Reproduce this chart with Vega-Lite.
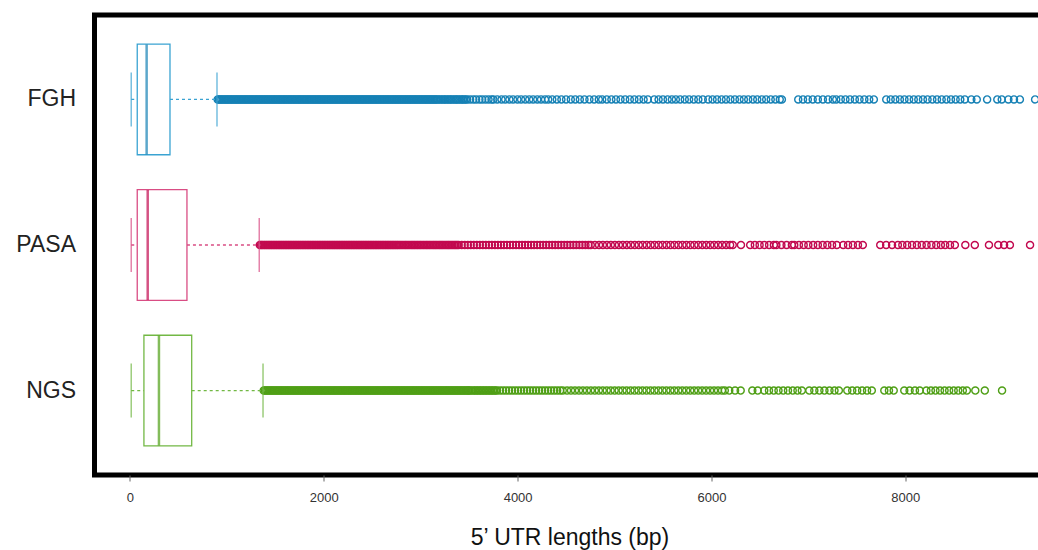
{
  "$schema": "https://vega.github.io/schema/vega-lite/v6.json",
  "autosize": {"type": "none"},
  "padding": {"left": 94.5, "top": 15, "right": 0, "bottom": 75},
  "width": 950,
  "height": 460,
  "background": "white",
  "config": {"view": {"stroke": "black", "strokeWidth": 5}, "font": "Liberation Sans"},
  "datasets": {
    "stats": [
      {"method": "FGH", "lower": 13, "q1": 75, "median": 172, "q3": 413, "upper": 898},
      {"method": "PASA", "lower": 13, "q1": 75, "median": 183, "q3": 588, "upper": 1334},
      {"method": "NGS", "lower": 13, "q1": 144, "median": 299, "q3": 637, "upper": 1373}
    ],
    "outliers": [
      {"method":"FGH","v":905},{"method":"FGH","v":930},{"method":"FGH","v":957},{"method":"FGH","v":983},{"method":"FGH","v":1008},{"method":"FGH","v":1035},{"method":"FGH","v":1060},{"method":"FGH","v":1086},{"method":"FGH","v":1112},{"method":"FGH","v":1138},{"method":"FGH","v":1164},{"method":"FGH","v":1190},{"method":"FGH","v":1216},{"method":"FGH","v":1242},{"method":"FGH","v":1268},{"method":"FGH","v":1294},{"method":"FGH","v":1320},{"method":"FGH","v":1346},{"method":"FGH","v":1372},{"method":"FGH","v":1398},{"method":"FGH","v":1424},{"method":"FGH","v":1450},{"method":"FGH","v":1476},{"method":"FGH","v":1502},{"method":"FGH","v":1528},{"method":"FGH","v":1554},{"method":"FGH","v":1580},{"method":"FGH","v":1606},{"method":"FGH","v":1632},{"method":"FGH","v":1658},{"method":"FGH","v":1684},{"method":"FGH","v":1710},{"method":"FGH","v":1736},{"method":"FGH","v":1762},{"method":"FGH","v":1788},{"method":"FGH","v":1814},{"method":"FGH","v":1840},{"method":"FGH","v":1866},{"method":"FGH","v":1892},{"method":"FGH","v":1918},{"method":"FGH","v":1944},{"method":"FGH","v":1970},{"method":"FGH","v":1996},{"method":"FGH","v":2022},{"method":"FGH","v":2048},{"method":"FGH","v":2074},{"method":"FGH","v":2100},{"method":"FGH","v":2126},{"method":"FGH","v":2152},{"method":"FGH","v":2178},{"method":"FGH","v":2204},{"method":"FGH","v":2230},{"method":"FGH","v":2256},{"method":"FGH","v":2282},{"method":"FGH","v":2308},{"method":"FGH","v":2334},{"method":"FGH","v":2360},{"method":"FGH","v":2386},{"method":"FGH","v":2412},{"method":"FGH","v":2438},{"method":"FGH","v":2464},{"method":"FGH","v":2490},{"method":"FGH","v":2516},{"method":"FGH","v":2542},{"method":"FGH","v":2568},{"method":"FGH","v":2594},{"method":"FGH","v":2620},{"method":"FGH","v":2646},{"method":"FGH","v":2672},{"method":"FGH","v":2698},{"method":"FGH","v":2724},{"method":"FGH","v":2750},{"method":"FGH","v":2776},{"method":"FGH","v":2802},{"method":"FGH","v":2828},{"method":"FGH","v":2854},{"method":"FGH","v":2880},{"method":"FGH","v":2906},{"method":"FGH","v":2932},{"method":"FGH","v":2958},{"method":"FGH","v":2984},{"method":"FGH","v":3010},{"method":"FGH","v":3036},{"method":"FGH","v":3062},{"method":"FGH","v":3088},{"method":"FGH","v":3114},{"method":"FGH","v":3140},{"method":"FGH","v":3166},
      {"method":"FGH","v":918},{"method":"FGH","v":943},{"method":"FGH","v":970},{"method":"FGH","v":996},{"method":"FGH","v":1021},{"method":"FGH","v":1047},{"method":"FGH","v":1073},{"method":"FGH","v":1099},{"method":"FGH","v":1125},{"method":"FGH","v":1151},{"method":"FGH","v":1177},{"method":"FGH","v":1203},{"method":"FGH","v":1229},{"method":"FGH","v":1255},{"method":"FGH","v":1281},{"method":"FGH","v":1307},{"method":"FGH","v":1333},{"method":"FGH","v":1359},{"method":"FGH","v":1385},{"method":"FGH","v":1411},{"method":"FGH","v":1437},{"method":"FGH","v":1463},{"method":"FGH","v":1489},{"method":"FGH","v":1515},{"method":"FGH","v":1541},{"method":"FGH","v":1567},{"method":"FGH","v":1593},{"method":"FGH","v":1619},{"method":"FGH","v":1645},{"method":"FGH","v":1671},{"method":"FGH","v":1697},{"method":"FGH","v":1723},{"method":"FGH","v":1749},{"method":"FGH","v":1775},{"method":"FGH","v":1801},{"method":"FGH","v":1827},{"method":"FGH","v":1853},{"method":"FGH","v":1879},{"method":"FGH","v":1905},{"method":"FGH","v":1931},{"method":"FGH","v":1957},{"method":"FGH","v":1983},{"method":"FGH","v":2009},{"method":"FGH","v":2035},{"method":"FGH","v":2061},{"method":"FGH","v":2087},{"method":"FGH","v":2113},{"method":"FGH","v":2139},{"method":"FGH","v":2165},{"method":"FGH","v":2191},{"method":"FGH","v":2217},{"method":"FGH","v":2243},{"method":"FGH","v":2269},{"method":"FGH","v":2295},{"method":"FGH","v":2321},{"method":"FGH","v":2347},{"method":"FGH","v":2373},{"method":"FGH","v":2399},{"method":"FGH","v":2425},{"method":"FGH","v":2451},{"method":"FGH","v":2477},{"method":"FGH","v":2503},{"method":"FGH","v":2529},{"method":"FGH","v":2555},{"method":"FGH","v":2581},{"method":"FGH","v":2607},{"method":"FGH","v":2633},{"method":"FGH","v":2659},{"method":"FGH","v":2685},{"method":"FGH","v":2711},{"method":"FGH","v":2737},{"method":"FGH","v":2763},{"method":"FGH","v":2789},{"method":"FGH","v":2815},{"method":"FGH","v":2841},{"method":"FGH","v":2867},{"method":"FGH","v":2893},{"method":"FGH","v":2919},{"method":"FGH","v":2945},{"method":"FGH","v":2971},{"method":"FGH","v":2997},{"method":"FGH","v":3023},{"method":"FGH","v":3049},{"method":"FGH","v":3075},{"method":"FGH","v":3101},{"method":"FGH","v":3127},{"method":"FGH","v":3153},{"method":"FGH","v":3180},{"method":"FGH","v":3212},{"method":"FGH","v":3244},{"method":"FGH","v":3275},{"method":"FGH","v":3306},{"method":"FGH","v":3338},{"method":"FGH","v":3369},{"method":"FGH","v":3400},{"method":"FGH","v":3432},{"method":"FGH","v":3464},
      {"method":"FGH","v":3197},{"method":"FGH","v":3230},{"method":"FGH","v":3259},{"method":"FGH","v":3292},{"method":"FGH","v":3321},{"method":"FGH","v":3355},{"method":"FGH","v":3384},{"method":"FGH","v":3418},{"method":"FGH","v":3447},{"method":"FGH","v":3480},{"method":"FGH","v":3510},{"method":"FGH","v":3543},{"method":"FGH","v":3572},{"method":"FGH","v":3606},{"method":"FGH","v":3635},{"method":"FGH","v":3668},{"method":"FGH","v":3700},{"method":"FGH","v":3731},{"method":"FGH","v":3750},
      {"method":"FGH","v":3790},{"method":"FGH","v":3834},{"method":"FGH","v":3872},{"method":"FGH","v":3915},{"method":"FGH","v":3953},{"method":"FGH","v":3998},{"method":"FGH","v":4036},{"method":"FGH","v":4079},{"method":"FGH","v":4120},{"method":"FGH","v":4160},{"method":"FGH","v":4203},{"method":"FGH","v":4242},{"method":"FGH","v":4283},{"method":"FGH","v":4316},
      {"method":"FGH","v":4358},{"method":"FGH","v":4405},{"method":"FGH","v":4452},{"method":"FGH","v":4500},{"method":"FGH","v":4549},
      {"method":"FGH","v":4595},{"method":"FGH","v":4642},{"method":"FGH","v":4690},{"method":"FGH","v":4741},{"method":"FGH","v":4790},{"method":"FGH","v":4838},
      {"method":"FGH","v":4873},{"method":"FGH","v":4920},{"method":"FGH","v":4968},{"method":"FGH","v":5015},{"method":"FGH","v":5062},{"method":"FGH","v":5110},{"method":"FGH","v":5158},{"method":"FGH","v":5205},{"method":"FGH","v":5252},{"method":"FGH","v":5300},{"method":"FGH","v":5344},
      {"method":"FGH","v":5410},{"method":"FGH","v":5455},{"method":"FGH","v":5500},{"method":"FGH","v":5548},{"method":"FGH","v":5592},{"method":"FGH","v":5633},
      {"method":"FGH","v":5678},{"method":"FGH","v":5725},{"method":"FGH","v":5770},{"method":"FGH","v":5818},{"method":"FGH","v":5865},{"method":"FGH","v":5911},
      {"method":"FGH","v":5967},{"method":"FGH","v":6012},{"method":"FGH","v":6058},{"method":"FGH","v":6105},{"method":"FGH","v":6150},{"method":"FGH","v":6196},{"method":"FGH","v":6242},{"method":"FGH","v":6290},{"method":"FGH","v":6335},{"method":"FGH","v":6380},{"method":"FGH","v":6428},{"method":"FGH","v":6473},{"method":"FGH","v":6520},{"method":"FGH","v":6565},{"method":"FGH","v":6612},{"method":"FGH","v":6660},{"method":"FGH","v":6705},{"method":"FGH","v":6727},
      {"method":"FGH","v":6896},{"method":"FGH","v":6945},{"method":"FGH","v":6995},{"method":"FGH","v":7045},{"method":"FGH","v":7098},{"method":"FGH","v":7150},{"method":"FGH","v":7203},{"method":"FGH","v":7253},
      {"method":"FGH","v":7288},{"method":"FGH","v":7335},{"method":"FGH","v":7383},{"method":"FGH","v":7430},{"method":"FGH","v":7480},{"method":"FGH","v":7528},{"method":"FGH","v":7578},{"method":"FGH","v":7628},{"method":"FGH","v":7676},
      {"method":"FGH","v":7804},{"method":"FGH","v":7850},{"method":"FGH","v":7898},{"method":"FGH","v":7945},{"method":"FGH","v":7992},{"method":"FGH","v":8040},{"method":"FGH","v":8088},{"method":"FGH","v":8135},{"method":"FGH","v":8183},{"method":"FGH","v":8230},{"method":"FGH","v":8280},{"method":"FGH","v":8328},{"method":"FGH","v":8376},{"method":"FGH","v":8425},{"method":"FGH","v":8472},{"method":"FGH","v":8520},{"method":"FGH","v":8568},{"method":"FGH","v":8615},
      {"method":"FGH","v":8682},{"method":"FGH","v":8738},{"method":"FGH","v":8845},{"method":"FGH","v":8950},{"method":"FGH","v":8996},{"method":"FGH","v":9064},{"method":"FGH","v":9122},{"method":"FGH","v":9183},{"method":"FGH","v":9340},

      {"method":"PASA","v":1340},{"method":"PASA","v":1365},{"method":"PASA","v":1392},{"method":"PASA","v":1418},{"method":"PASA","v":1444},{"method":"PASA","v":1470},{"method":"PASA","v":1496},{"method":"PASA","v":1522},{"method":"PASA","v":1548},{"method":"PASA","v":1574},{"method":"PASA","v":1600},{"method":"PASA","v":1626},{"method":"PASA","v":1652},{"method":"PASA","v":1678},{"method":"PASA","v":1704},{"method":"PASA","v":1730},{"method":"PASA","v":1756},{"method":"PASA","v":1782},{"method":"PASA","v":1808},{"method":"PASA","v":1834},{"method":"PASA","v":1860},{"method":"PASA","v":1886},{"method":"PASA","v":1912},{"method":"PASA","v":1938},{"method":"PASA","v":1964},{"method":"PASA","v":1990},{"method":"PASA","v":2016},{"method":"PASA","v":2042},{"method":"PASA","v":2068},{"method":"PASA","v":2094},{"method":"PASA","v":2120},{"method":"PASA","v":2146},{"method":"PASA","v":2172},{"method":"PASA","v":2198},{"method":"PASA","v":2224},{"method":"PASA","v":2250},{"method":"PASA","v":2276},{"method":"PASA","v":2302},{"method":"PASA","v":2328},{"method":"PASA","v":2354},{"method":"PASA","v":2380},{"method":"PASA","v":2406},{"method":"PASA","v":2432},{"method":"PASA","v":2458},{"method":"PASA","v":2484},{"method":"PASA","v":2510},{"method":"PASA","v":2536},{"method":"PASA","v":2562},{"method":"PASA","v":2588},{"method":"PASA","v":2614},{"method":"PASA","v":2640},{"method":"PASA","v":2666},{"method":"PASA","v":2692},{"method":"PASA","v":2718},{"method":"PASA","v":2744},{"method":"PASA","v":2770},
      {"method":"PASA","v":1353},{"method":"PASA","v":1379},{"method":"PASA","v":1405},{"method":"PASA","v":1431},{"method":"PASA","v":1457},{"method":"PASA","v":1483},{"method":"PASA","v":1509},{"method":"PASA","v":1535},{"method":"PASA","v":1561},{"method":"PASA","v":1587},{"method":"PASA","v":1613},{"method":"PASA","v":1639},{"method":"PASA","v":1665},{"method":"PASA","v":1691},{"method":"PASA","v":1717},{"method":"PASA","v":1743},{"method":"PASA","v":1769},{"method":"PASA","v":1795},{"method":"PASA","v":1821},{"method":"PASA","v":1847},{"method":"PASA","v":1873},{"method":"PASA","v":1899},{"method":"PASA","v":1925},{"method":"PASA","v":1951},{"method":"PASA","v":1977},{"method":"PASA","v":2003},{"method":"PASA","v":2029},{"method":"PASA","v":2055},{"method":"PASA","v":2081},{"method":"PASA","v":2107},{"method":"PASA","v":2133},{"method":"PASA","v":2159},{"method":"PASA","v":2185},{"method":"PASA","v":2211},{"method":"PASA","v":2237},{"method":"PASA","v":2263},{"method":"PASA","v":2289},{"method":"PASA","v":2315},{"method":"PASA","v":2341},{"method":"PASA","v":2367},{"method":"PASA","v":2393},{"method":"PASA","v":2419},{"method":"PASA","v":2445},{"method":"PASA","v":2471},{"method":"PASA","v":2497},{"method":"PASA","v":2523},{"method":"PASA","v":2549},{"method":"PASA","v":2575},{"method":"PASA","v":2601},{"method":"PASA","v":2627},{"method":"PASA","v":2653},{"method":"PASA","v":2679},{"method":"PASA","v":2705},{"method":"PASA","v":2731},{"method":"PASA","v":2757},{"method":"PASA","v":2785},{"method":"PASA","v":2816},{"method":"PASA","v":2847},{"method":"PASA","v":2878},{"method":"PASA","v":2910},{"method":"PASA","v":2940},{"method":"PASA","v":2971},{"method":"PASA","v":3002},{"method":"PASA","v":3034},{"method":"PASA","v":3065},{"method":"PASA","v":3096},{"method":"PASA","v":3128},{"method":"PASA","v":3158},{"method":"PASA","v":3190},{"method":"PASA","v":3220},{"method":"PASA","v":3252},{"method":"PASA","v":3283},{"method":"PASA","v":3314},{"method":"PASA","v":3346},{"method":"PASA","v":3376},
      {"method":"PASA","v":2800},{"method":"PASA","v":2832},{"method":"PASA","v":2862},{"method":"PASA","v":2894},{"method":"PASA","v":2925},{"method":"PASA","v":2956},{"method":"PASA","v":2987},{"method":"PASA","v":3018},{"method":"PASA","v":3050},{"method":"PASA","v":3080},{"method":"PASA","v":3112},{"method":"PASA","v":3143},{"method":"PASA","v":3174},{"method":"PASA","v":3205},{"method":"PASA","v":3236},{"method":"PASA","v":3268},{"method":"PASA","v":3298},{"method":"PASA","v":3330},{"method":"PASA","v":3361},{"method":"PASA","v":3392},{"method":"PASA","v":3423},{"method":"PASA","v":3454},{"method":"PASA","v":3486},{"method":"PASA","v":3516},{"method":"PASA","v":3548},{"method":"PASA","v":3579},{"method":"PASA","v":3610},{"method":"PASA","v":3641},{"method":"PASA","v":3672},{"method":"PASA","v":3704},{"method":"PASA","v":3734},{"method":"PASA","v":3766},{"method":"PASA","v":3797},{"method":"PASA","v":3828},{"method":"PASA","v":3859},{"method":"PASA","v":3890},{"method":"PASA","v":3922},{"method":"PASA","v":3952},{"method":"PASA","v":3984},{"method":"PASA","v":4015},{"method":"PASA","v":4046},{"method":"PASA","v":4077},{"method":"PASA","v":4108},{"method":"PASA","v":4140},{"method":"PASA","v":4170},{"method":"PASA","v":4202},{"method":"PASA","v":4233},{"method":"PASA","v":4264},{"method":"PASA","v":4295},{"method":"PASA","v":4326},{"method":"PASA","v":4358},{"method":"PASA","v":4388},{"method":"PASA","v":4420},{"method":"PASA","v":4451},{"method":"PASA","v":4482},{"method":"PASA","v":4513},{"method":"PASA","v":4544},{"method":"PASA","v":4576},{"method":"PASA","v":4606},{"method":"PASA","v":4638},{"method":"PASA","v":4669},{"method":"PASA","v":4700},{"method":"PASA","v":4731},{"method":"PASA","v":4755},
      {"method":"PASA","v":4798},{"method":"PASA","v":4840},{"method":"PASA","v":4880},{"method":"PASA","v":4922},{"method":"PASA","v":4962},{"method":"PASA","v":5004},{"method":"PASA","v":5045},{"method":"PASA","v":5086},{"method":"PASA","v":5127},{"method":"PASA","v":5168},{"method":"PASA","v":5209},{"method":"PASA","v":5250},{"method":"PASA","v":5291},{"method":"PASA","v":5332},{"method":"PASA","v":5373},{"method":"PASA","v":5414},{"method":"PASA","v":5455},{"method":"PASA","v":5496},{"method":"PASA","v":5537},{"method":"PASA","v":5578},{"method":"PASA","v":5619},{"method":"PASA","v":5660},{"method":"PASA","v":5701},{"method":"PASA","v":5742},{"method":"PASA","v":5783},{"method":"PASA","v":5824},{"method":"PASA","v":5865},{"method":"PASA","v":5906},{"method":"PASA","v":5947},{"method":"PASA","v":5988},{"method":"PASA","v":6029},{"method":"PASA","v":6070},{"method":"PASA","v":6111},{"method":"PASA","v":6152},{"method":"PASA","v":6193},{"method":"PASA","v":6220},
      {"method":"PASA","v":6305},
      {"method":"PASA","v":6400},{"method":"PASA","v":6448},{"method":"PASA","v":6497},{"method":"PASA","v":6546},{"method":"PASA","v":6595},{"method":"PASA","v":6644},
      {"method":"PASA","v":6670},{"method":"PASA","v":6722},{"method":"PASA","v":6776},{"method":"PASA","v":6830},
      {"method":"PASA","v":6855},{"method":"PASA","v":6903},{"method":"PASA","v":6952},{"method":"PASA","v":7000},{"method":"PASA","v":7050},{"method":"PASA","v":7098},{"method":"PASA","v":7148},{"method":"PASA","v":7196},{"method":"PASA","v":7245},{"method":"PASA","v":7294},
      {"method":"PASA","v":7360},{"method":"PASA","v":7410},{"method":"PASA","v":7460},{"method":"PASA","v":7512},{"method":"PASA","v":7562},
      {"method":"PASA","v":7742},{"method":"PASA","v":7803},{"method":"PASA","v":7864},{"method":"PASA","v":7924},
      {"method":"PASA","v":7970},{"method":"PASA","v":8020},{"method":"PASA","v":8070},{"method":"PASA","v":8120},{"method":"PASA","v":8170},{"method":"PASA","v":8220},{"method":"PASA","v":8270},{"method":"PASA","v":8320},{"method":"PASA","v":8368},
      {"method":"PASA","v":8412},{"method":"PASA","v":8462},{"method":"PASA","v":8512},
      {"method":"PASA","v":8620},{"method":"PASA","v":8718},{"method":"PASA","v":8864},{"method":"PASA","v":8960},{"method":"PASA","v":9020},{"method":"PASA","v":9080},{"method":"PASA","v":9288},

      {"method":"NGS","v":1380},{"method":"NGS","v":1406},{"method":"NGS","v":1432},{"method":"NGS","v":1458},{"method":"NGS","v":1484},{"method":"NGS","v":1510},{"method":"NGS","v":1536},{"method":"NGS","v":1562},{"method":"NGS","v":1588},{"method":"NGS","v":1614},{"method":"NGS","v":1640},{"method":"NGS","v":1666},{"method":"NGS","v":1692},{"method":"NGS","v":1718},{"method":"NGS","v":1744},{"method":"NGS","v":1770},{"method":"NGS","v":1796},{"method":"NGS","v":1822},{"method":"NGS","v":1848},{"method":"NGS","v":1874},{"method":"NGS","v":1900},{"method":"NGS","v":1926},{"method":"NGS","v":1952},{"method":"NGS","v":1978},{"method":"NGS","v":2004},{"method":"NGS","v":2030},{"method":"NGS","v":2056},{"method":"NGS","v":2082},{"method":"NGS","v":2108},{"method":"NGS","v":2134},{"method":"NGS","v":2160},{"method":"NGS","v":2186},{"method":"NGS","v":2212},{"method":"NGS","v":2238},{"method":"NGS","v":2264},{"method":"NGS","v":2290},{"method":"NGS","v":2316},{"method":"NGS","v":2342},{"method":"NGS","v":2368},{"method":"NGS","v":2394},{"method":"NGS","v":2420},{"method":"NGS","v":2446},{"method":"NGS","v":2472},{"method":"NGS","v":2498},{"method":"NGS","v":2524},{"method":"NGS","v":2550},{"method":"NGS","v":2576},{"method":"NGS","v":2602},{"method":"NGS","v":2628},{"method":"NGS","v":2654},{"method":"NGS","v":2680},{"method":"NGS","v":2706},{"method":"NGS","v":2732},{"method":"NGS","v":2758},{"method":"NGS","v":2784},{"method":"NGS","v":2810},{"method":"NGS","v":2836},{"method":"NGS","v":2862},{"method":"NGS","v":2888},{"method":"NGS","v":2914},{"method":"NGS","v":2940},{"method":"NGS","v":2966},{"method":"NGS","v":2992},{"method":"NGS","v":3018},{"method":"NGS","v":3044},{"method":"NGS","v":3070},{"method":"NGS","v":3096},{"method":"NGS","v":3122},{"method":"NGS","v":3148},{"method":"NGS","v":3174},{"method":"NGS","v":3200},{"method":"NGS","v":3226},{"method":"NGS","v":3252},{"method":"NGS","v":3278},{"method":"NGS","v":3304},{"method":"NGS","v":3330},{"method":"NGS","v":3356},{"method":"NGS","v":3382},{"method":"NGS","v":3408},{"method":"NGS","v":3434},{"method":"NGS","v":3460},{"method":"NGS","v":3486},{"method":"NGS","v":3505},
      {"method":"NGS","v":1393},{"method":"NGS","v":1419},{"method":"NGS","v":1445},{"method":"NGS","v":1471},{"method":"NGS","v":1497},{"method":"NGS","v":1523},{"method":"NGS","v":1549},{"method":"NGS","v":1575},{"method":"NGS","v":1601},{"method":"NGS","v":1627},{"method":"NGS","v":1653},{"method":"NGS","v":1679},{"method":"NGS","v":1705},{"method":"NGS","v":1731},{"method":"NGS","v":1757},{"method":"NGS","v":1783},{"method":"NGS","v":1809},{"method":"NGS","v":1835},{"method":"NGS","v":1861},{"method":"NGS","v":1887},{"method":"NGS","v":1913},{"method":"NGS","v":1939},{"method":"NGS","v":1965},{"method":"NGS","v":1991},{"method":"NGS","v":2017},{"method":"NGS","v":2043},{"method":"NGS","v":2069},{"method":"NGS","v":2095},{"method":"NGS","v":2121},{"method":"NGS","v":2147},{"method":"NGS","v":2173},{"method":"NGS","v":2199},{"method":"NGS","v":2225},{"method":"NGS","v":2251},{"method":"NGS","v":2277},{"method":"NGS","v":2303},{"method":"NGS","v":2329},{"method":"NGS","v":2355},{"method":"NGS","v":2381},{"method":"NGS","v":2407},{"method":"NGS","v":2433},{"method":"NGS","v":2459},{"method":"NGS","v":2485},{"method":"NGS","v":2511},{"method":"NGS","v":2537},{"method":"NGS","v":2563},{"method":"NGS","v":2589},{"method":"NGS","v":2615},{"method":"NGS","v":2641},{"method":"NGS","v":2667},{"method":"NGS","v":2693},{"method":"NGS","v":2719},{"method":"NGS","v":2745},{"method":"NGS","v":2771},{"method":"NGS","v":2797},{"method":"NGS","v":2823},{"method":"NGS","v":2849},{"method":"NGS","v":2875},{"method":"NGS","v":2901},{"method":"NGS","v":2927},{"method":"NGS","v":2953},{"method":"NGS","v":2979},{"method":"NGS","v":3005},{"method":"NGS","v":3031},{"method":"NGS","v":3057},{"method":"NGS","v":3083},{"method":"NGS","v":3109},{"method":"NGS","v":3135},{"method":"NGS","v":3161},{"method":"NGS","v":3187},{"method":"NGS","v":3213},{"method":"NGS","v":3239},{"method":"NGS","v":3265},{"method":"NGS","v":3291},{"method":"NGS","v":3317},{"method":"NGS","v":3343},{"method":"NGS","v":3369},{"method":"NGS","v":3395},{"method":"NGS","v":3421},{"method":"NGS","v":3447},{"method":"NGS","v":3473},{"method":"NGS","v":3495},{"method":"NGS","v":3522},{"method":"NGS","v":3556},{"method":"NGS","v":3587},{"method":"NGS","v":3618},{"method":"NGS","v":3649},{"method":"NGS","v":3680},{"method":"NGS","v":3711},{"method":"NGS","v":3742},{"method":"NGS","v":3773},
      {"method":"NGS","v":3540},{"method":"NGS","v":3571},{"method":"NGS","v":3602},{"method":"NGS","v":3633},{"method":"NGS","v":3664},{"method":"NGS","v":3695},{"method":"NGS","v":3726},{"method":"NGS","v":3757},{"method":"NGS","v":3788},{"method":"NGS","v":3819},{"method":"NGS","v":3850},{"method":"NGS","v":3881},{"method":"NGS","v":3912},{"method":"NGS","v":3943},{"method":"NGS","v":3974},{"method":"NGS","v":4005},{"method":"NGS","v":4036},{"method":"NGS","v":4067},{"method":"NGS","v":4098},{"method":"NGS","v":4129},{"method":"NGS","v":4160},{"method":"NGS","v":4191},{"method":"NGS","v":4222},{"method":"NGS","v":4253},{"method":"NGS","v":4284},{"method":"NGS","v":4315},{"method":"NGS","v":4346},{"method":"NGS","v":4377},{"method":"NGS","v":4408},{"method":"NGS","v":4439},{"method":"NGS","v":4466},
      {"method":"NGS","v":4510},{"method":"NGS","v":4551},{"method":"NGS","v":4592},{"method":"NGS","v":4633},{"method":"NGS","v":4674},{"method":"NGS","v":4715},{"method":"NGS","v":4756},{"method":"NGS","v":4797},{"method":"NGS","v":4838},{"method":"NGS","v":4879},{"method":"NGS","v":4920},{"method":"NGS","v":4961},{"method":"NGS","v":5002},{"method":"NGS","v":5043},{"method":"NGS","v":5084},{"method":"NGS","v":5125},{"method":"NGS","v":5166},{"method":"NGS","v":5207},{"method":"NGS","v":5248},{"method":"NGS","v":5289},{"method":"NGS","v":5330},{"method":"NGS","v":5371},{"method":"NGS","v":5412},{"method":"NGS","v":5453},{"method":"NGS","v":5494},{"method":"NGS","v":5535},{"method":"NGS","v":5576},{"method":"NGS","v":5617},{"method":"NGS","v":5658},{"method":"NGS","v":5699},{"method":"NGS","v":5740},{"method":"NGS","v":5781},{"method":"NGS","v":5822},{"method":"NGS","v":5863},{"method":"NGS","v":5904},{"method":"NGS","v":5945},{"method":"NGS","v":5986},{"method":"NGS","v":6027},{"method":"NGS","v":6068},{"method":"NGS","v":6109},{"method":"NGS","v":6138},
      {"method":"NGS","v":6184},{"method":"NGS","v":6244},{"method":"NGS","v":6302},
      {"method":"NGS","v":6422},{"method":"NGS","v":6478},
      {"method":"NGS","v":6545},{"method":"NGS","v":6594},{"method":"NGS","v":6643},{"method":"NGS","v":6692},{"method":"NGS","v":6741},{"method":"NGS","v":6790},{"method":"NGS","v":6839},{"method":"NGS","v":6888},{"method":"NGS","v":6933},
      {"method":"NGS","v":7010},{"method":"NGS","v":7062},{"method":"NGS","v":7114},{"method":"NGS","v":7166},{"method":"NGS","v":7218},{"method":"NGS","v":7270},{"method":"NGS","v":7315},
      {"method":"NGS","v":7402},{"method":"NGS","v":7453},{"method":"NGS","v":7504},{"method":"NGS","v":7555},{"method":"NGS","v":7606},{"method":"NGS","v":7655},
      {"method":"NGS","v":7784},{"method":"NGS","v":7832},{"method":"NGS","v":7881},
      {"method":"NGS","v":7990},{"method":"NGS","v":8045},{"method":"NGS","v":8100},{"method":"NGS","v":8150},
      {"method":"NGS","v":8218},{"method":"NGS","v":8265},{"method":"NGS","v":8312},{"method":"NGS","v":8359},{"method":"NGS","v":8406},{"method":"NGS","v":8453},{"method":"NGS","v":8500},{"method":"NGS","v":8547},{"method":"NGS","v":8594},{"method":"NGS","v":8636},
      {"method":"NGS","v":8723},{"method":"NGS","v":8821},{"method":"NGS","v":8999}
    ]
  },
  "encoding": {
    "y": {
      "field": "method", "type": "nominal",
      "scale": {"domain": ["FGH", "PASA", "NGS"], "paddingInner": 0.24, "paddingOuter": 0.2},
      "axis": {"title": null, "domain": false, "ticks": false, "tickSize": 0, "labelFontSize": 23, "labelColor": "#222", "labelPadding": 19, "labelFont": "Liberation Sans"}
    }
  },
  "layer": [
    {
      "data": {"name": "outliers"},
      "mark": {"type": "point", "shape": "circle", "filled": false, "size": 50, "strokeWidth": 1.4, "opacity": 1},
      "encoding": {
        "x": {
          "field": "v", "type": "quantitative",
          "scale": {"domain": [-366, 9437], "nice": false, "zero": false},
          "axis": {"title": "5’ UTR lengths (bp)", "values": [0, 2000, 4000, 6000, 8000], "format": "d", "domain": false, "grid": false, "tickSize": 6, "tickColor": "#666", "tickWidth": 1, "labelFontSize": 13, "labelColor": "#333", "labelPadding": 10, "labelFont": "Liberation Sans", "titleFont": "Liberation Sans", "titleFontSize": 23, "titleFontWeight": "normal", "titleColor": "#111", "titlePadding": 22}
        },
        "color": {"field": "method", "type": "nominal", "scale": {"domain": ["FGH", "PASA", "NGS"], "range": ["#1681b5", "#c2094f", "#4f9f16"]}, "legend": null}
      }
    },
    {
      "data": {"name": "stats"},
      "mark": {"type": "rule", "strokeWidth": 1.3, "strokeDash": [3, 3]},
      "encoding": {
        "x": {"field": "lower", "type": "quantitative", "scale": {"domain": [-366, 9437], "nice": false, "zero": false}},
        "x2": {"field": "q1"},
        "stroke": {"field": "method", "type": "nominal", "scale": {"domain": ["FGH", "PASA", "NGS"], "range": ["#3aa3d2", "#d94d84", "#72b844"]}, "legend": null}
      }
    },
    {
      "data": {"name": "stats"},
      "mark": {"type": "rule", "strokeWidth": 1.3, "strokeDash": [3, 3]},
      "encoding": {
        "x": {"field": "q3", "type": "quantitative", "scale": {"domain": [-366, 9437], "nice": false, "zero": false}},
        "x2": {"field": "upper"},
        "stroke": {"field": "method", "type": "nominal", "scale": {"domain": ["FGH", "PASA", "NGS"], "range": ["#3aa3d2", "#d94d84", "#72b844"]}, "legend": null}
      }
    },
    {
      "data": {"name": "stats"},
      "mark": {"type": "tick", "size": 54, "thickness": 1.5},
      "encoding": {
        "x": {"field": "lower", "type": "quantitative", "scale": {"domain": [-366, 9437], "nice": false, "zero": false}},
        "fill": {"field": "method", "type": "nominal", "scale": {"domain": ["FGH", "PASA", "NGS"], "range": ["#3aa3d2", "#d94d84", "#72b844"]}, "legend": null}
      }
    },
    {
      "data": {"name": "stats"},
      "mark": {"type": "tick", "size": 54, "thickness": 1.5},
      "encoding": {
        "x": {"field": "upper", "type": "quantitative", "scale": {"domain": [-366, 9437], "nice": false, "zero": false}},
        "fill": {"field": "method", "type": "nominal", "scale": {"domain": ["FGH", "PASA", "NGS"], "range": ["#3aa3d2", "#d94d84", "#72b844"]}, "legend": null}
      }
    },
    {
      "data": {"name": "stats"},
      "mark": {"type": "bar", "fill": "white", "strokeWidth": 1.3},
      "encoding": {
        "x": {"field": "q1", "type": "quantitative", "scale": {"domain": [-366, 9437], "nice": false, "zero": false}},
        "x2": {"field": "q3"},
        "stroke": {"field": "method", "type": "nominal", "scale": {"domain": ["FGH", "PASA", "NGS"], "range": ["#3aa3d2", "#d94d84", "#72b844"]}, "legend": null}
      }
    },
    {
      "data": {"name": "stats"},
      "mark": {"type": "tick", "size": 110, "thickness": 2.5},
      "encoding": {
        "x": {"field": "median", "type": "quantitative", "scale": {"domain": [-366, 9437], "nice": false, "zero": false}},
        "color": {"field": "method", "type": "nominal", "scale": {"domain": ["FGH", "PASA", "NGS"], "range": ["#1681b5", "#c2094f", "#4f9f16"]}, "legend": null}
      }
    }
  ]
}
